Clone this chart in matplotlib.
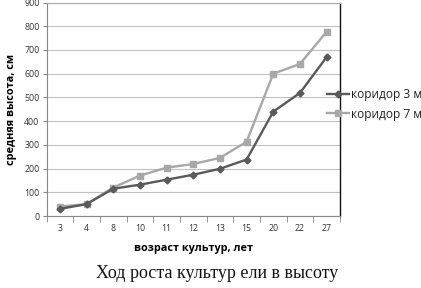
import matplotlib
matplotlib.use("Agg")
import matplotlib.pyplot as plt
import numpy as np

ages = ["3", "4", "8", "10", "11", "12", "13", "15", "20", "22", "27"]
corridor3 = [30, 50, 115, 132, 153, 174, 199, 238, 440, 519, 670]
corridor7 = [40, 50, 120, 170, 204, 219, 245, 313, 600, 641, 777]
series_names = ["коридор 3 м", "коридор 7 м"]
y_ticks = [0, 100, 200, 300, 400, 500, 600, 700, 800, 900]

plt.rcParams['font.family'] = ['Open Sans', 'DejaVu Sans']

fig = plt.figure(figsize=(4.21, 2.88), dpi=100)
ax_left, ax_right, ax_top, ax_bot = 46.5, 340, 2.5, 216
ax = fig.add_axes([ax_left/421, 1 - ax_bot/288, (ax_right - ax_left)/421, (ax_bot - ax_top)/288])

x = np.arange(len(ages))
dark = "#5a5a5a"
light = "#a8a8a8"
ax.plot(x, corridor3, color=dark, lw=1.7, marker="D", ms=3.5, label=series_names[0], zorder=3)
ax.plot(x, corridor7, color=light, lw=1.7, marker="s", ms=5, label=series_names[1], zorder=2)

ax.set_xlim(-0.5, len(ages) - 0.5)
ax.set_ylim(0, 900)
ax.set_yticks(y_ticks)
ax.set_yticklabels([str(v) for v in y_ticks], fontsize=6.3, color="#333333")
ax.set_xticks(x)
ax.set_xticklabels(ages, fontsize=6.3, color="#333333")
ax.set_xticks(np.arange(-0.5, len(ages)), minor=True)
ax.tick_params(axis="x", which="major", length=0, pad=6)
ax.tick_params(axis="x", which="minor", length=4, color="#888888", direction="out")
ax.tick_params(axis="y", length=3, color="#888888", pad=2)
ax.grid(axis="y", color="#c0c0c0", lw=0.8)
ax.set_axisbelow(True)
for s in ["left", "bottom"]:
    ax.spines[s].set_color("#888888")
    ax.spines[s].set_linewidth(0.8)
ax.spines["top"].set_color("#aaaaaa")
ax.spines["top"].set_linewidth(0.8)
ax.spines["right"].set_color("#111111")
ax.spines["right"].set_linewidth(1.0)

ax.set_ylabel("средняя высота, см", fontsize=7.8, fontweight="bold", labelpad=5)
ax.set_xlabel("возраст культур, лет", fontsize=7.8, fontweight="bold", labelpad=7)

leg = ax.legend(loc="upper left",
                bbox_to_anchor=((327 - ax_left)/(ax_right - ax_left), 1 - (88 - ax_top)/(ax_bot - ax_top)),
                frameon=False, fontsize=8.6, handlelength=1.85, handletextpad=0.15,
                labelspacing=0.55, borderaxespad=0, borderpad=0)
for t in leg.get_texts():
    t.set_color("#222222")

fig.text(217/421, 1 - 273/288, "Ход роста культур ели в высоту", ha="center", va="center",
         fontsize=13, family=["Liberation Serif", "DejaVu Serif"], color="#111111")

fig.savefig("out.png", dpi=100)
